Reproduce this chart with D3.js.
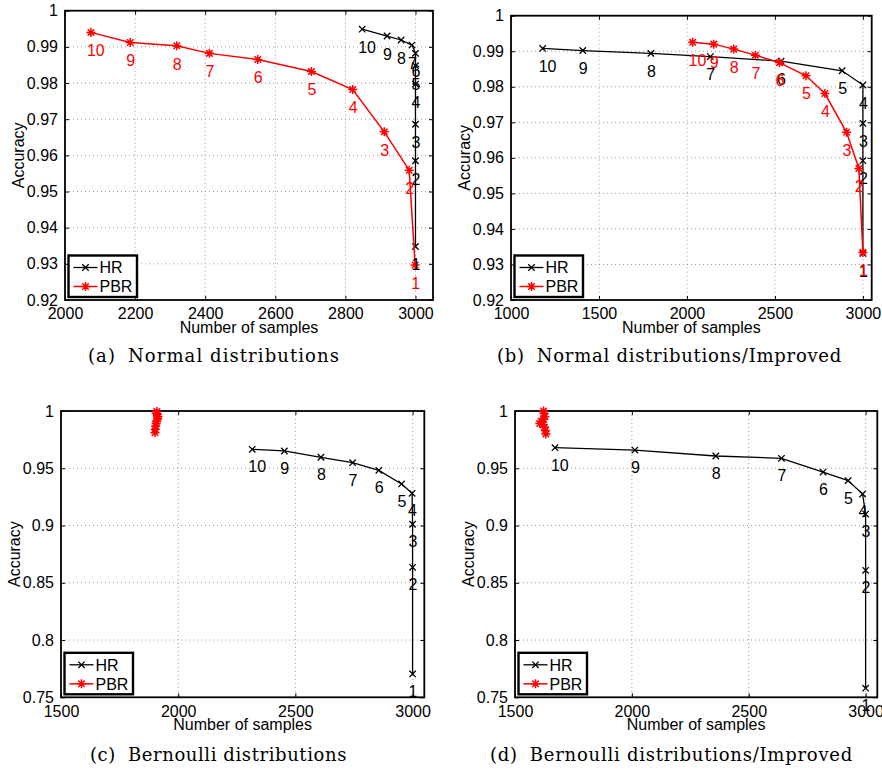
<!DOCTYPE html>
<html>
<head>
<meta charset="utf-8">
<script src="https://cdn.jsdelivr.net/npm/d3@7"></script>
<style>
  body { margin: 0; background: #fff; }
  svg { display: block; }
  text { font-family: "Liberation Sans", Arial, sans-serif; }
  .cap { font-family: "DejaVu Serif", "Liberation Serif", serif; }
</style>
</head>
<body>
<div id="chart"></div>
<script>
// point numbers written next to each marker
const pointLabels = ["1","2","3","4","5","6","7","8","9","10"];
const seriesNames = ["HR", "PBR"];

// (a) Normal distributions
const hrA_x  = [3000, 3000, 3000, 3000, 3000, 3000, 2990, 2959, 2919, 2848];
const hrA_y  = [0.9348, 0.9585, 0.9686, 0.9797, 0.9848, 0.9882, 0.9905, 0.9919, 0.9930, 0.9949];
const pbrA_x = [2999, 2982, 2911, 2821, 2703, 2550, 2412, 2319, 2186, 2074];
const pbrA_y = [0.9297, 0.9559, 0.9665, 0.9782, 0.9832, 0.9865, 0.9882, 0.9903, 0.9912, 0.9940];

// (b) Normal distributions/Improved
const hrB_x  = [3000, 3000, 3000, 3000, 2882, 2535, 2133, 1795, 1408, 1180];
const hrB_y  = [0.9331, 0.9592, 0.9697, 0.9805, 0.9845, 0.9872, 0.9885, 0.9894, 0.9902, 0.9908];
const pbrB_x = [3000, 2977, 2907, 2784, 2677, 2526, 2389, 2266, 2152, 2032];
const pbrB_y = [0.9334, 0.9570, 0.9672, 0.9781, 0.9831, 0.9868, 0.9889, 0.9906, 0.9920, 0.9925];

// (c) Bernoulli distributions
const hrC_x  = [3000, 3000, 3000, 2998, 2953, 2856, 2744, 2609, 2453, 2316];
const hrC_y  = [0.7704, 0.8635, 0.9011, 0.9281, 0.9363, 0.9482, 0.9549, 0.9596, 0.9651, 0.9665];
const pbrC_x = [1901, 1902, 1904, 1906, 1908, 1912, 1914, 1911, 1906, 1909];
const pbrC_y = [0.981, 0.984, 0.987, 0.989, 0.991, 0.993, 0.995, 0.997, 0.998, 0.9995];

// (d) Bernoulli distributions/Improved
const hrD_x  = [3000, 3000, 3000, 2987, 2925, 2818, 2640, 2359, 2013, 1671];
const hrD_y  = [0.7580, 0.8609, 0.9100, 0.9275, 0.9392, 0.9467, 0.9587, 0.9607, 0.9659, 0.9680];
const pbrD_x = [1632, 1630, 1626, 1620, 1606, 1612, 1622, 1628, 1624, 1622];
const pbrD_y = [0.980, 0.983, 0.986, 0.988, 0.989, 0.991, 0.993, 0.995, 0.998, 1.000];

// axis ticks
const xTicksA = [2000, 2200, 2400, 2600, 2800, 3000];
const xTicksB = [1000, 1500, 2000, 2500, 3000];
const xTicksC = [1500, 2000, 2500, 3000];
const yTicksAB = [0.92, 0.93, 0.94, 0.95, 0.96, 0.97, 0.98, 0.99, 1];
const yTicksCD = [0.75, 0.8, 0.85, 0.9, 0.95, 1];

const captions = [
  ["(a)", "Normal distributions"],
  ["(b)", "Normal distributions/Improved"],
  ["(c)", "Bernoulli distributions"],
  ["(d)", "Bernoulli distributions/Improved"]
];

const width = 882, height = 771;
const svg = d3.select("#chart").append("svg")
  .attr("width", width).attr("height", height);

const fmt = d3.format("~g");

function drawX(g, x, y, r, color, sw) {
  g.append("path")
    .attr("d", `M${x-r},${y-r}L${x+r},${y+r}M${x-r},${y+r}L${x+r},${y-r}`)
    .attr("stroke", color).attr("stroke-width", sw).attr("fill", "none");
}
function drawStar(g, x, y, r, color, sw) {
  const d = r * 0.72;
  g.append("path")
    .attr("d", `M${x-r},${y}L${x+r},${y}M${x},${y-r}L${x},${y+r}` +
               `M${x-d},${y-d}L${x+d},${y+d}M${x-d},${y+d}L${x+d},${y-d}`)
    .attr("stroke", color).attr("stroke-width", sw).attr("fill", "none");
}

function panel(p) {
  const g = svg.append("g");
  const x = d3.scaleLinear().domain(p.xDomain).range([p.l, p.r]);
  const y = d3.scaleLinear().domain(p.yDomain).range([p.b, p.t]);

  // grid
  g.append("g").selectAll("line").data(p.xTicks).join("line")
    .attr("x1", d => x(d)).attr("x2", d => x(d))
    .attr("y1", p.t).attr("y2", p.b)
    .attr("stroke", "#9a9a9a").attr("stroke-width", 1)
    .attr("stroke-dasharray", "1,3");
  g.append("g").selectAll("line").data(p.yTicks).join("line")
    .attr("x1", p.l).attr("x2", p.r)
    .attr("y1", d => y(d)).attr("y2", d => y(d))
    .attr("stroke", "#9a9a9a").attr("stroke-width", 1)
    .attr("stroke-dasharray", "1,3");

  // axes with inward ticks
  const tk = 4;
  g.append("g").attr("transform", `translate(0,${p.b})`)
    .call(d3.axisBottom(x).tickValues(p.xTicks).tickFormat(d3.format("d"))
      .tickSizeInner(-tk).tickSizeOuter(0).tickPadding(8))
    .call(a => a.select(".domain").remove());
  g.append("g").attr("transform", `translate(0,${p.t})`)
    .call(d3.axisTop(x).tickValues(p.xTicks).tickSizeInner(-tk).tickSizeOuter(0).tickFormat(""))
    .call(a => a.select(".domain").remove());
  g.append("g").attr("transform", `translate(${p.l},0)`)
    .call(d3.axisLeft(y).tickValues(p.yTicks).tickFormat(fmt).tickSizeInner(-tk).tickSizeOuter(0).tickPadding(7))
    .call(a => a.select(".domain").remove());
  g.append("g").attr("transform", `translate(${p.r},0)`)
    .call(d3.axisRight(y).tickValues(p.yTicks).tickSizeInner(-tk).tickSizeOuter(0).tickFormat(""))
    .call(a => a.select(".domain").remove());
  g.selectAll(".tick text").attr("font-size", 16).attr("fill", "#000")
    .attr("font-family", '"Liberation Sans", Arial, sans-serif');
  g.selectAll(".tick line").attr("stroke", "#000");

  g.append("rect").attr("x", p.l).attr("y", p.t)
    .attr("width", p.r - p.l).attr("height", p.b - p.t)
    .attr("fill", "none").attr("stroke", "#000").attr("stroke-width", 1.8);

  // axis titles
  g.append("text").attr("x", (p.l + p.r) / 2).attr("y", p.b + 33)
    .attr("text-anchor", "middle").attr("font-size", 16).text("Number of samples");
  g.append("text")
    .attr("transform", `translate(${p.l - 41},${(p.t + p.b) / 2}) rotate(-90)`)
    .attr("text-anchor", "middle").attr("font-size", 16).text("Accuracy");

  // series
  const line = d3.line().x(d => x(d[0])).y(d => y(d[1]));
  const hr = p.hrX.map((v, i) => [v, p.hrY[i]]);
  const pbr = p.pbrX.map((v, i) => [v, p.pbrY[i]]);

  g.append("path").attr("d", line(hr)).attr("fill", "none")
    .attr("stroke", "#000").attr("stroke-width", 1.3);
  hr.forEach(d => drawX(g, x(d[0]), y(d[1]), 3.2, "#000", 1.3));

  g.append("path").attr("d", line(pbr)).attr("fill", "none")
    .attr("stroke", "#ff0000").attr("stroke-width", 1.5);
  pbr.forEach(d => drawStar(g, x(d[0]), y(d[1]), 4.5, "#ff0000", 1.5));

  // point numbers
  g.append("g").selectAll("text").data(hr).join("text")
    .attr("x", d => x(d[0]) - 4).attr("y", d => y(d[1] - p.off))
    .attr("dy", "0.36em").attr("font-size", 16).attr("fill", "#000")
    .text((d, i) => pointLabels[i]);
  if (p.pbrLabels) {
    g.append("g").selectAll("text").data(pbr).join("text")
      .attr("x", d => x(d[0]) - 4).attr("y", d => y(d[1] - p.off))
      .attr("dy", "0.36em").attr("font-size", 16).attr("fill", "#ff0000")
      .text((d, i) => pointLabels[i]);
  }

  // legend
  const lx = p.l + 3.5, ly = p.b - 44.5;
  const lg = g.append("g");
  lg.append("rect").attr("x", lx).attr("y", ly).attr("width", 68.5).attr("height", 41.5)
    .attr("fill", "#fff").attr("stroke", "#000").attr("stroke-width", 2.4);
  [0, 1].forEach(k => {
    const yy = ly + 12 + k * 19;
    const col = k === 0 ? "#000" : "#ff0000";
    lg.append("line").attr("x1", lx + 5).attr("x2", lx + 29).attr("y1", yy).attr("y2", yy)
      .attr("stroke", col).attr("stroke-width", k === 0 ? 1.3 : 1.5);
    if (k === 0) drawX(lg, lx + 17, yy, 3.2, col, 1.3);
    else drawStar(lg, lx + 17, yy, 4.5, col, 1.5);
    lg.append("text").attr("x", lx + 31).attr("y", yy).attr("dy", "0.36em")
      .attr("font-size", 16).text(seriesNames[k]);
  });

  // caption, spread to the width it has in the reference
  const c = svg.append("text").attr("class", "cap")
    .attr("x", p.capX).attr("y", p.capY).attr("text-anchor", "middle")
    .attr("font-size", 18);
  c.append("tspan").text(p.caption[0]);
  c.append("tspan").attr("dx", 12).text(p.caption[1]);
  const len = c.node().getComputedTextLength() + 12;
  const n = p.caption[0].length + p.caption[1].length;
  c.attr("letter-spacing", Math.max(0, (p.capW - len) / n));
}

panel({ l: 65, r: 433, t: 10.7, b: 300, xDomain: [2000, 3050], yDomain: [0.92, 1],
  xTicks: xTicksA, yTicks: yTicksAB, hrX: hrA_x, hrY: hrA_y, pbrX: pbrA_x, pbrY: pbrA_y,
  off: 0.005, pbrLabels: true, caption: captions[0], capX: 214, capY: 362, capW: 252 });
panel({ l: 511, r: 871.7, t: 15.7, b: 300, xDomain: [1000, 3050], yDomain: [0.92, 1],
  xTicks: xTicksB, yTicks: yTicksAB, hrX: hrB_x, hrY: hrB_y, pbrX: pbrB_x, pbrY: pbrB_y,
  off: 0.005, pbrLabels: true, caption: captions[1], capX: 669.5, capY: 362, capW: 345 });
panel({ l: 61, r: 424.3, t: 411, b: 697.3, xDomain: [1500, 3050], yDomain: [0.75, 1],
  xTicks: xTicksC, yTicks: yTicksCD, hrX: hrC_x, hrY: hrC_y, pbrX: pbrC_x, pbrY: pbrC_y,
  off: 0.015, pbrLabels: false, caption: captions[2], capX: 218.5, capY: 761, capW: 257 });
panel({ l: 515, r: 877.3, t: 411, b: 697.3, xDomain: [1500, 3050], yDomain: [0.75, 1],
  xTicks: xTicksC, yTicks: yTicksCD, hrX: hrD_x, hrY: hrD_y, pbrX: pbrD_x, pbrY: pbrD_y,
  off: 0.015, pbrLabels: false, caption: captions[3], capX: 671.5, capY: 761, capW: 363 });
</script>
</body>
</html>
